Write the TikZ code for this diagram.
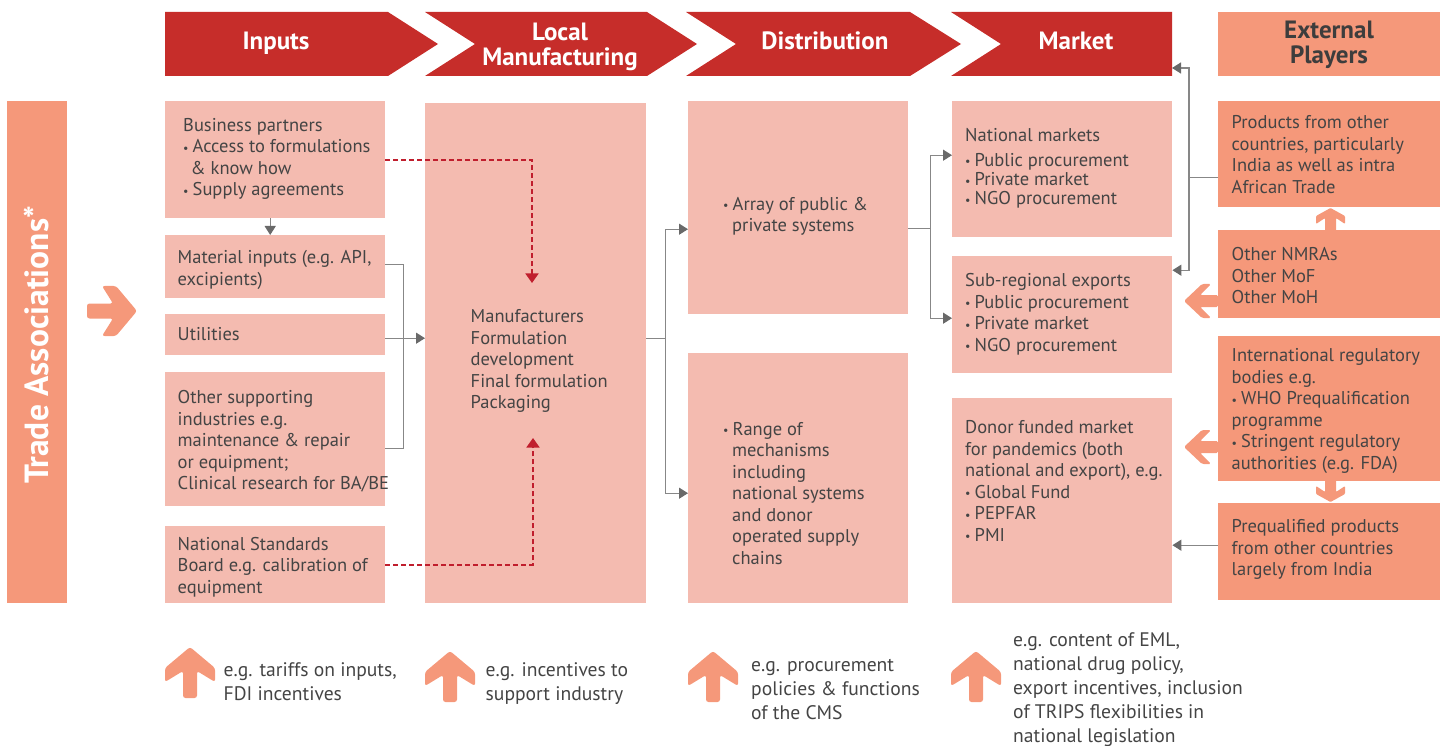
\documentclass[tikz,border=0pt]{standalone}
\usepackage{fontspec}
\setmainfont{PT Sans}
\usetikzlibrary{arrows.meta,calc}
\definecolor{hdrred}{RGB}{198,45,42}
\definecolor{pinkbox}{RGB}{244,187,176}
\definecolor{salm}{RGB}{245,152,122}
\definecolor{txtgray}{RGB}{68,68,68}
\definecolor{lngray}{RGB}{135,135,135}
\definecolor{tipgray}{RGB}{105,105,105}
\definecolor{dashred}{RGB}{192,30,45}
\newcommand\bl{\makebox[9.5pt][l]{\raisebox{0.5pt}{\fontsize{12}{12}\selectfont •}}}
\tikzset{
  pbox/.style={fill=pinkbox, inner sep=0pt, anchor=north west},
  sbox/.style={fill=salm, inner sep=0pt, anchor=north west},
  txt/.style={anchor=north west, inner sep=0pt, align=left, text=txtgray, font=\fontsize{18.5}{21.5}\selectfont},
  btxt/.style={anchor=north west, inner sep=0pt, align=left, text=txtgray, font=\fontsize{19.6}{24.2}\selectfont},
  htxt/.style={inner sep=0pt, align=center, text=white, font=\bfseries\fontsize{25}{20.5}\selectfont},
  gline/.style={draw=lngray, line width=1.3pt},
  conn/.style={draw=lngray, line width=1.3pt, -{Triangle[length=9pt,width=11pt,color=tipgray]}},
  rdash/.style={draw=dashred, line width=1.7pt, dash pattern=on 5pt off 3pt, -{Triangle[length=9.5pt,width=13pt,color=dashred]}},
  bigup/.pic={\fill[salm, rounded corners=2.5pt] (0,0) -- (25,21) -- (25,35) -- (7,24) -- (7,51) -- (-7,51) -- (-7,24) -- (-25,35) -- (-25,21) -- cycle;},
  bigright/.pic={\fill[salm, rounded corners=2.5pt] (0,0) -- (-21,25) -- (-35,25) -- (-24,7.5) -- (-50,7.5) -- (-50,-7.5) -- (-24,-7.5) -- (-35,-25) -- (-21,-25) -- cycle;},
  smleft/.pic={\fill[salm, rounded corners=1.5pt] (0,0) -- (18,-17) -- (27,-17) -- (16,-6) -- (34,-6) -- (34,6) -- (16,6) -- (27,17) -- (18,17) -- cycle;},
  smup/.pic={\fill[salm, rounded corners=1pt] (0,0) -- (14.5,8) -- (14.5,16) -- (5.5,10) -- (5.5,23) -- (-5.5,23) -- (-5.5,10) -- (-14.5,16) -- (-14.5,8) -- cycle;}
}
\begin{document}
\begin{tikzpicture}[x=1pt,y=-1pt]
\useasboundingbox (0,0) rectangle (1441,746);
% header chevrons
\fill[hdrred] (165,12) -- (388,12) -- (438,44) -- (388,76) -- (165,76) -- cycle;
\fill[hdrred] (425,12) -- (647,12) -- (697,44) -- (647,76) -- (425,76) -- (475,44) -- cycle;
\fill[hdrred] (686,12) -- (910,12) -- (961,44) -- (910,76) -- (686,76) -- (736,44) -- cycle;
\fill[hdrred] (951,12) -- (1172,12) -- (1172,76) -- (951,76) -- (1001,44) -- cycle;
\node[sbox, minimum width=222pt, minimum height=64pt] (ext) at (1218,12) {};
\node[htxt, anchor=base] (hin) at (276,50) {Inputs};
\node[htxt, anchor=north] (hlm) at (560,23) {\strut Local\\Manufacturing};
\node[htxt, anchor=base] (hdist) at (825,50) {Distribution};
\node[htxt, anchor=base] (hmkt) at (1076,50) {Market};
\node[htxt, anchor=north, text=txtgray!90!black] (hext) at (1329,20.5) {\strut External\\Players};
% left trade associations
\node[sbox, minimum width=60pt, minimum height=502pt] (trade) at (7,101) {};
\node[rotate=90, anchor=base, inner sep=0pt, text=white, font=\bfseries\fontsize{33.5}{33.5}\selectfont] (tta) at (48.5,345) {Trade Associations*};
\pic at (137,311) {bigright};
% inputs column
\node[pbox, minimum width=220pt, minimum height=117pt] (bp) at (165,101) {};
\node[pbox, minimum width=220pt, minimum height=63pt] (mat) at (165,235) {};
\node[pbox, minimum width=220pt, minimum height=41pt] (util) at (165,314) {};
\node[pbox, minimum width=220pt, minimum height=134pt] (oth) at (165,372) {};
\node[pbox, minimum width=220pt, minimum height=77pt] (nsb) at (165,526) {};
% manufacturing
\node[pbox, minimum width=221pt, minimum height=500pt] (mfg) at (425,103) {};
% distribution
\node[pbox, minimum width=220pt, minimum height=213pt] (dist1) at (688,101) {};
\node[pbox, minimum width=220pt, minimum height=250pt] (dist2) at (688,353) {};
% market
\node[pbox, minimum width=220pt, minimum height=136pt] (nat) at (952,101) {};
\node[pbox, minimum width=220pt, minimum height=117pt] (sub) at (952,256) {};
\node[pbox, minimum width=220pt, minimum height=205pt] (donor) at (952,398) {};
% external players
\node[sbox, minimum width=222pt, minimum height=106pt] (prod) at (1218,101) {};
\node[sbox, minimum width=222pt, minimum height=88pt] (nmra) at (1218,230) {};
\node[sbox, minimum width=222pt, minimum height=145pt] (intl) at (1218,336) {};
\node[sbox, minimum width=222pt, minimum height=97pt] (preq) at (1218,503) {};
% connectors
\draw[conn] ([xshift=-5pt]bp.south) -- ([xshift=-5pt]mat.north);
\draw[gline] ([yshift=2.5pt]mat.east) -- ++(18,0) |- ([yshift=-9pt]oth.east);
\draw[conn] ([yshift=-3.5pt]util.east) -- ([yshift=-3.5pt]util.east -| mfg.west);
\draw[gline] ([yshift=15pt]mfg.east) -- ++(19,0) coordinate (msplit);
\draw[conn] (msplit) |- ([yshift=-21.5pt]dist1.west);
\draw[conn] (msplit) |- ([yshift=-15pt]dist2.west);
\draw[gline] ([yshift=-20.5pt]dist1.east) -- ++(22,0) coordinate (dsplit);
\draw[conn] (dsplit) |- ([yshift=14pt]nat.west);
\draw[conn] (dsplit) |- ([yshift=-3.5pt]sub.west);
\coordinate (mkright) at (1172,68);
\draw[gline] ([yshift=-23pt]prod.west) -- ++(-29,0) coordinate (psplit);
\draw[conn] (psplit) |- (mkright);
\draw[conn] (psplit) |- ([yshift=44.5pt]sub.east);
\draw[conn] ([yshift=6.5pt]preq.west) -- ([yshift=6.5pt]preq.west -| donor.east);
\coordinate (mfgin1) at (532,283);
\coordinate (mfgin2) at (533,438);
\draw[rdash] (bp.east) -| (mfgin1);
\draw[rdash] (nsb.east) -| (mfgin2);
% block arrows right
\pic at (1184,301) {smleft};
\pic at (1184,447) {smleft};
\pic at (1330.5,208) {smup};
\pic[yscale=-1] at (1330.5,502) {smup};
% texts
\node[txt] (tbp) at (183,116) {\strut Business partners\\\bl Access to formulations\\\hspace*{7.5pt}\& know how\\\bl Supply agreements};
\node[txt] (tmat) at (177.5,248.3) {\strut Material inputs (e.g. API,\\excipients)};
\node[txt] (tutil) at (177.5,325) {\strut Utilities};
\node[txt] (toth) at (177.5,388.3) {\strut Other supporting\\industries e.g.\\maintenance \& repair\\or equipment;\\Clinical research for BA/BE};
\node[txt] (tnsb) at (177.5,535) {\strut National Standards\\Board e.g. calibration of\\equipment};
\node[txt] (tmfg) at (470.5,307.6) {\strut Manufacturers\\Formulation\\development\\Final formulation\\Packaging};
\node[txt] (td1) at (723,195) {\strut\bl Array of public \&\\\hspace*{9pt}private systems};
\node[txt] (td2) at (723,420) {\strut\bl Range of\\\hspace*{9pt}mechanisms\\\hspace*{9pt}including\\\hspace*{9pt}national systems\\\hspace*{9pt}and donor\\\hspace*{9pt}operated supply\\\hspace*{9pt}chains};
\node[txt, font=\fontsize{18.5}{19.3}\selectfont] (tnat) at (965,128.2) {\strut National markets\\[5pt]\bl Public procurement\\\bl Private market\\\bl NGO procurement};
\node[txt] (tsub) at (965,271.7) {\strut Sub-regional exports\\\bl Public procurement\\\bl Private market\\\bl NGO procurement};
\node[txt] (tdon) at (965,418.3) {\strut Donor funded market\\for pandemics (both\\national and export), e.g.\\\bl Global Fund\\\bl PEPFAR\\\bl PMI};
\node[txt] (tprod) at (1231.5,113.3) {\strut Products from other\\countries, particularly\\India as well as intra\\African Trade};
\node[txt] (tnmra) at (1231.5,245.7) {\strut Other NMRAs\\Other MoF\\Other MoH};
\node[txt] (tintl) at (1231.5,346.7) {\strut International regulatory\\bodies e.g.\\\bl WHO Prequalification\\programme\\\bl Stringent regulatory\\authorities (e.g. FDA)};
\node[txt] (tpreq) at (1231.5,517.7) {\strut Prequalified products\\from other countries\\largely from India};
% bottom arrows and texts
\pic at (190,647) {bigup};
\pic at (450,651) {bigup};
\pic at (713,651) {bigup};
\pic at (976,651) {bigup};
\node[btxt] (tb1) at (223.5,659.5) {\strut e.g. tariffs on inputs,\\FDI incentives};
\node[btxt] (tb2) at (485.5,659.5) {\strut e.g. incentives to\\support industry};
\node[btxt] (tb3) at (751,654) {\strut e.g. procurement\\policies \& functions\\of the CMS};
\node[btxt] (tb4) at (1013,629) {\strut e.g. content of EML,\\national drug policy,\\export incentives, inclusion\\of TRIPS flexibilities in\\national legislation};
\end{tikzpicture}
\end{document}
